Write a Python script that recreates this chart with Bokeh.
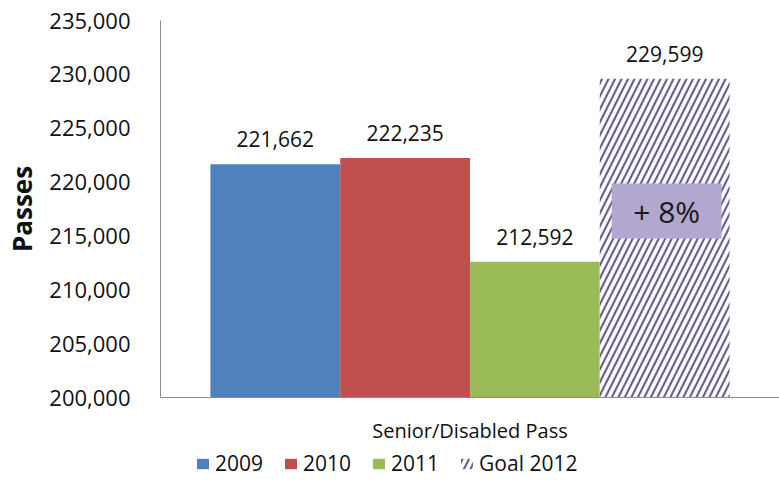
from bokeh.plotting import figure
from bokeh.layouts import column
from bokeh.models import (ColumnDataSource, FactorRange, Range1d, Legend, LegendItem,
                          NumeralTickFormatter, FixedTicker)
from bokeh.transform import dodge
from bokeh.core.properties import value
from bokeh.embed import file_html
from bokeh.resources import INLINE

category = ["Senior/Disabled Pass"]
series = ["2009", "2010", "2011", "Goal 2012"]
values = [221662, 222235, 212592, 229599]
labels = ["221,662", "222,235", "212,592", "229,599"]
y_ticks = [200000, 205000, 210000, 215000, 220000, 225000, 230000, 235000]
goal_note = "+ 8%"

colors = ["#4f81bd", "#c0504d", "#9bbb59", "#fbf9ff"]
offsets = [-0.3145, -0.1048, 0.1048, 0.3145]
bar_w = 0.2097
FONT = "Open Sans"
HATCH = dict(hatch_pattern="/", hatch_color="#67628a", hatch_scale=13, hatch_weight=2.1)

p = figure(width=779, height=446, x_range=FactorRange(*category),
           y_range=Range1d(200000, 235000), output_backend="svg",
           toolbar_location=None, min_border_left=160, min_border_right=0,
           min_border_top=20, min_border_bottom=49)
p.outline_line_color = None
p.xgrid.grid_line_color = None
p.ygrid.grid_line_color = None
p.background_fill_color = "white"
p.border_fill_color = "white"

sources = []
for i, s in enumerate(series):
    src = ColumnDataSource(dict(cat=category, val=[values[i]], lab=[labels[i]]))
    sources.append(src)
    extra = HATCH if s.startswith("Goal") else {}
    p.vbar(x=dodge("cat", offsets[i], range=p.x_range), top="val", bottom=200000,
           width=bar_w, source=src, fill_color=colors[i], line_color=None, **extra)
    p.text(x=dodge("cat", offsets[i], range=p.x_range), y="val", text="lab", source=src,
           text_align="center", text_baseline="bottom", y_offset=-17,
           text_font=value(FONT), text_font_size="21px", text_color="#111111")

# "+ 8%" note box on the goal bar
note_src = ColumnDataSource(dict(cat=category, y=[217314], t=[goal_note]))
p.rect(x=dodge("cat", 0.3177, range=p.x_range), y="y", width=0.1774, height=5100,
       source=note_src, fill_color="#b2a7cf", line_color=None)
p.text(x=dodge("cat", 0.3177, range=p.x_range), y="y", text="t", source=note_src,
       text_align="center", text_baseline="middle", text_font=value(FONT),
       text_font_size="30px", text_color="#1a1a1a")

# axes
p.yaxis.ticker = FixedTicker(ticks=y_ticks)
p.yaxis.formatter = NumeralTickFormatter(format="0,0")
p.yaxis.major_tick_out = 0
p.yaxis.major_tick_in = 0
p.yaxis.minor_tick_line_color = None
p.yaxis.major_label_standoff = 30
p.yaxis.major_label_text_font = FONT
p.yaxis.major_label_text_font_size = "22px"
p.yaxis.major_label_text_color = "#111111"
p.yaxis.axis_line_color = "#8c8c8c"
p.yaxis.axis_label = "Passes"
p.yaxis.axis_label_text_font = FONT
p.yaxis.axis_label_text_font_style = "bold"
p.yaxis.axis_label_text_font_size = "26px"
p.yaxis.axis_label_text_color = "#111111"
p.yaxis.axis_label_standoff = 6

p.xaxis.major_tick_out = 0
p.xaxis.major_tick_in = 0
p.xaxis.major_label_standoff = 19
p.xaxis.major_label_text_font = FONT
p.xaxis.major_label_text_font_size = "20px"
p.xaxis.major_label_text_color = "#111111"
p.xaxis.axis_line_color = "#8c8c8c"

# legend strip below the chart (its renderers are hidden; only legend swatches show)
q = figure(width=779, height=50, output_backend="svg", toolbar_location=None,
           min_border=0, x_range=FactorRange(*category), y_range=(0, 1))
q.axis.visible = False
q.grid.visible = False
q.outline_line_color = None
items = []
for i, s in enumerate(series):
    extra = HATCH if s.startswith("Goal") else {}
    r = q.vbar(x=dodge("cat", offsets[i], range=q.x_range), top="val", bottom=200000,
               width=bar_w, source=sources[i], fill_color=colors[i], line_color=None,
               visible=False, **extra)
    items.append(LegendItem(label=s, renderers=[r]))
legend = Legend(items=items, orientation="horizontal", location=(35, 19), padding=0,
                margin=0, spacing=20, glyph_width=15, glyph_height=13, label_standoff=5,
                label_text_font=FONT, label_text_font_size="21px",
                label_text_color="#111111", border_line_color=None,
                background_fill_alpha=0, inactive_fill_alpha=0)
q.add_layout(legend, "center")

open("out.html", "w").write(file_html(column(p, q, spacing=0), INLINE))
